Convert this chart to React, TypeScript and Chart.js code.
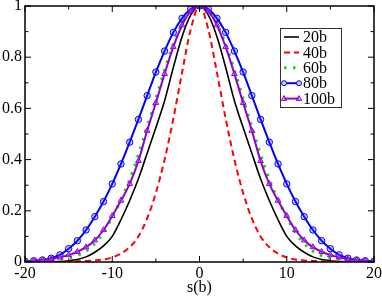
import React, { useEffect, useRef } from "react";
import { Chart, registerables } from "chart.js";

Chart.register(...registerables);

const sValues = [
  -20, -19, -18, -17, -16, -15, -14, -13, -12, -11, -10, -9, -8, -7, -6, -5, -4, -3, -2, -1,
  0, 1, 2, 3, 4, 5, 6, 7, 8, 9, 10, 11, 12, 13, 14, 15, 16, 17, 18, 19, 20,
];

const series20b = [
  0.001, 0.001, 0.001, 0.001, 0.002, 0.005, 0.01, 0.02, 0.038, 0.063, 0.1, 0.165, 0.24, 0.325, 0.425, 0.525, 0.63, 0.76, 0.88, 0.965,
  1,
  0.965, 0.88, 0.76, 0.63, 0.525, 0.425, 0.325, 0.24, 0.165, 0.1, 0.063, 0.038, 0.02, 0.01, 0.005, 0.002, 0.001, 0.001, 0.001, 0.001,
];

const series40b = [
  0.001, 0.001, 0.001, 0.001, 0.001, 0.002, 0.003, 0.004, 0.006, 0.01, 0.018, 0.033, 0.058, 0.1, 0.17, 0.27, 0.4, 0.56, 0.74, 0.91,
  1,
  0.91, 0.74, 0.56, 0.4, 0.27, 0.17, 0.1, 0.058, 0.033, 0.018, 0.01, 0.006, 0.004, 0.003, 0.002, 0.001, 0.001, 0.001, 0.001, 0.001,
];

const series60b = [
  0.001, 0.002, 0.003, 0.005, 0.009, 0.015, 0.025, 0.042, 0.072, 0.115, 0.175, 0.243, 0.322, 0.42, 0.527, 0.638, 0.75, 0.85, 0.93, 0.982,
  1,
  0.982, 0.93, 0.85, 0.75, 0.638, 0.527, 0.42, 0.322, 0.243, 0.175, 0.115, 0.072, 0.042, 0.025, 0.015, 0.009, 0.005, 0.003, 0.002, 0.001,
];

const series80b = [
  0.003, 0.005, 0.008, 0.015, 0.028, 0.052, 0.083, 0.125, 0.177, 0.236, 0.305, 0.383, 0.468, 0.557, 0.65, 0.742, 0.824, 0.897, 0.952, 0.988,
  1,
  0.988, 0.952, 0.897, 0.824, 0.742, 0.65, 0.557, 0.468, 0.383, 0.305, 0.236, 0.177, 0.125, 0.083, 0.052, 0.028, 0.015, 0.008, 0.005, 0.003,
];

const series100b = [
  0.002, 0.004, 0.007, 0.011, 0.018, 0.027, 0.04, 0.058, 0.085, 0.125, 0.18, 0.24, 0.305, 0.395, 0.513, 0.622, 0.735, 0.84, 0.925, 0.98,
  1,
  0.98, 0.925, 0.84, 0.735, 0.622, 0.513, 0.395, 0.305, 0.24, 0.18, 0.125, 0.085, 0.058, 0.04, 0.027, 0.018, 0.011, 0.007, 0.004, 0.002,
];

const seriesLabels = ["20b", "40b", "60b", "80b", "100b"];
const xTitle = "s(b)";
const xMajorTicks = [-20, -10, 0, 10, 20];
const xMinorTicks = [-15, -5, 5, 15];
const yMajorTicks = [0, 0.2, 0.4, 0.6, 0.8, 1];
const yMinorTicks = [0.1, 0.3, 0.5, 0.7, 0.9];

const FONT = "'Liberation Serif', 'Times New Roman', serif";
const BLUE = "#0000ff";
const PURPLE = "rgb(148,0,211)";
const GREEN = "#00e600";
const RED = "#ff0000";

function drawTriangle(ctx: CanvasRenderingContext2D, x: number, y: number, r: number) {
  ctx.beginPath();
  ctx.moveTo(x, y - r);
  ctx.lineTo(x + r * 0.9, y + r * 0.6);
  ctx.lineTo(x - r * 0.9, y + r * 0.6);
  ctx.closePath();
}

const framePlugin = {
  id: "frameTicks",
  afterDatasetsDraw(chart: any) {
    const { ctx, chartArea: a, scales } = chart;
    const xs = scales.x;
    const ys = scales.y;
    ctx.save();
    ctx.strokeStyle = "#000";
    ctx.lineWidth = 1.5;
    ctx.strokeRect(a.left, a.top, a.right - a.left, a.bottom - a.top);
    ctx.lineWidth = 1;
    const seg = (x1: number, y1: number, x2: number, y2: number) => {
      ctx.beginPath();
      ctx.moveTo(x1, y1);
      ctx.lineTo(x2, y2);
      ctx.stroke();
    };
    const maj = 6;
    const min = 3.5;
    xMajorTicks.forEach((v) => {
      const p = xs.getPixelForValue(v);
      seg(p, a.bottom, p, a.bottom - maj);
      seg(p, a.top, p, a.top + maj);
    });
    xMinorTicks.forEach((v) => {
      const p = xs.getPixelForValue(v);
      seg(p, a.bottom, p, a.bottom - min);
      seg(p, a.top, p, a.top + min);
    });
    yMajorTicks.forEach((v) => {
      const p = ys.getPixelForValue(v);
      seg(a.left, p, a.left + maj, p);
      seg(a.right, p, a.right - maj, p);
    });
    yMinorTicks.forEach((v) => {
      const p = ys.getPixelForValue(v);
      seg(a.left, p, a.left + min, p);
      seg(a.right, p, a.right - min, p);
    });
    ctx.restore();
  },
};

const legendPlugin = {
  id: "boxLegend",
  afterDraw(chart: any) {
    const { ctx, chartArea: a } = chart;
    const left = a.right - 94;
    const top = a.top + 22;
    const w = 61;
    const h = 79;
    ctx.save();
    ctx.fillStyle = "#fff";
    ctx.fillRect(left, top, w, h);
    ctx.strokeStyle = "#333";
    ctx.lineWidth = 1;
    ctx.strokeRect(left + 0.5, top + 0.5, w, h);
    ctx.font = `16px ${FONT}`;
    ctx.textBaseline = "middle";
    chart.data.datasets.forEach((ds: any, i: number) => {
      const y = top + 9 + i * 15.4;
      const x1 = left + 4;
      const x2 = left + 19;
      ctx.strokeStyle = ds.borderColor;
      ctx.lineWidth = ds.borderWidth;
      ctx.setLineDash(ds.borderDash || []);
      ctx.beginPath();
      ctx.moveTo(x1, y);
      ctx.lineTo(x2, y);
      ctx.stroke();
      ctx.setLineDash([]);
      if (ds.pointStyle === "circle") {
        ctx.lineWidth = 1;
        ctx.fillStyle = ds.pointBackgroundColor;
        [x1, x2].forEach((px) => {
          ctx.beginPath();
          ctx.arc(px, y, 2.5, 0, Math.PI * 2);
          ctx.fillStyle = "#fff";
          ctx.fill();
          ctx.fillStyle = ds.pointBackgroundColor;
          ctx.fill();
          ctx.stroke();
        });
      } else if (ds.pointStyle === "triangle") {
        ctx.lineWidth = 1;
        [x1, x2].forEach((px) => {
          drawTriangle(ctx, px, y, 3);
          ctx.fillStyle = ds.pointBackgroundColor;
          ctx.fill();
          ctx.stroke();
        });
      }
      ctx.fillStyle = "#000";
      ctx.fillText(ds.label, left + 23, y + 1);
    });
    ctx.restore();
  },
};

export default function App() {
  const canvasRef = useRef<HTMLCanvasElement | null>(null);

  useEffect(() => {
    const canvas = canvasRef.current;
    if (!canvas) return;
    const toPts = (arr: number[]) => sValues.map((s, i) => ({ x: s, y: arr[i] }));
    const seriesData = [series20b, series40b, series60b, series80b, series100b];
    const styles = [
      { borderColor: "#000", borderWidth: 1.6, borderDash: [], pointStyle: false, pointBackgroundColor: "#000", pointRadius: 0 },
      { borderColor: RED, borderWidth: 2, borderDash: [6, 4], pointStyle: false, pointBackgroundColor: RED, pointRadius: 0 },
      { borderColor: GREEN, borderWidth: 3, borderDash: [2.5, 6.5], pointStyle: false, pointBackgroundColor: GREEN, pointRadius: 0 },
      { borderColor: BLUE, borderWidth: 2, borderDash: [], pointStyle: "circle", pointBackgroundColor: "rgba(60,60,255,0.25)", pointRadius: 3.2 },
      { borderColor: PURPLE, borderWidth: 2, borderDash: [], pointStyle: "triangle", pointBackgroundColor: "rgba(180,90,230,0.45)", pointRadius: 3.3 },
    ];
    const chart = new Chart(canvas, {
      type: "line",
      data: {
        datasets: seriesData.map((arr, i) => ({
          label: seriesLabels[i],
          data: toPts(arr),
          borderColor: styles[i].borderColor,
          borderWidth: styles[i].borderWidth,
          borderDash: styles[i].borderDash,
          pointStyle: styles[i].pointStyle as any,
          pointRadius: styles[i].pointRadius,
          pointBorderWidth: 1,
          pointBorderColor: styles[i].borderColor,
          pointBackgroundColor: styles[i].pointBackgroundColor,
          cubicInterpolationMode: "monotone",
          fill: false,
          order: 5 - i,
        })),
      },
      options: {
        animation: false,
        responsive: false,
        devicePixelRatio: 1,
        layout: { padding: { top: 6, right: 8, left: 0, bottom: 0 } },
        plugins: { legend: { display: false }, tooltip: { enabled: false } },
        scales: {
          x: {
            type: "linear",
            min: -20,
            max: 20,
            grid: { display: false, drawTicks: false },
            border: { display: false },
            ticks: {
              stepSize: 10,
              padding: 2,
              color: "#000",
              font: { family: FONT, size: 16 },
              maxRotation: 0,
              autoSkip: false,
              callback: (v: any) => String(v),
            },
            title: { display: true, text: xTitle, color: "#000", font: { family: FONT, size: 16 }, padding: 0 },
            afterFit: (scale: any) => {
              scale.height = 35;
              scale.paddingLeft = 0;
              scale.paddingRight = 0;
            },
          },
          y: {
            type: "linear",
            min: 0,
            max: 1,
            grid: { display: false, drawTicks: false },
            border: { display: false },
            ticks: {
              stepSize: 0.2,
              padding: 3,
              color: "#000",
              font: { family: FONT, size: 16 },
              callback: (v: any) => String(Math.round(Number(v) * 10) / 10),
            },
            afterFit: (scale: any) => {
              scale.width = 25;
              scale.paddingTop = 0;
              scale.paddingBottom = 0;
            },
          },
        },
      },
      plugins: [framePlugin, legendPlugin],
    });
    return () => chart.destroy();
  }, []);

  return (
    <div style={{ position: "fixed", left: 0, top: 0, width: 382, height: 297, background: "#fff" }}>
      <canvas ref={canvasRef} width={382} height={297} style={{ display: "block" }} />
    </div>
  );
}
